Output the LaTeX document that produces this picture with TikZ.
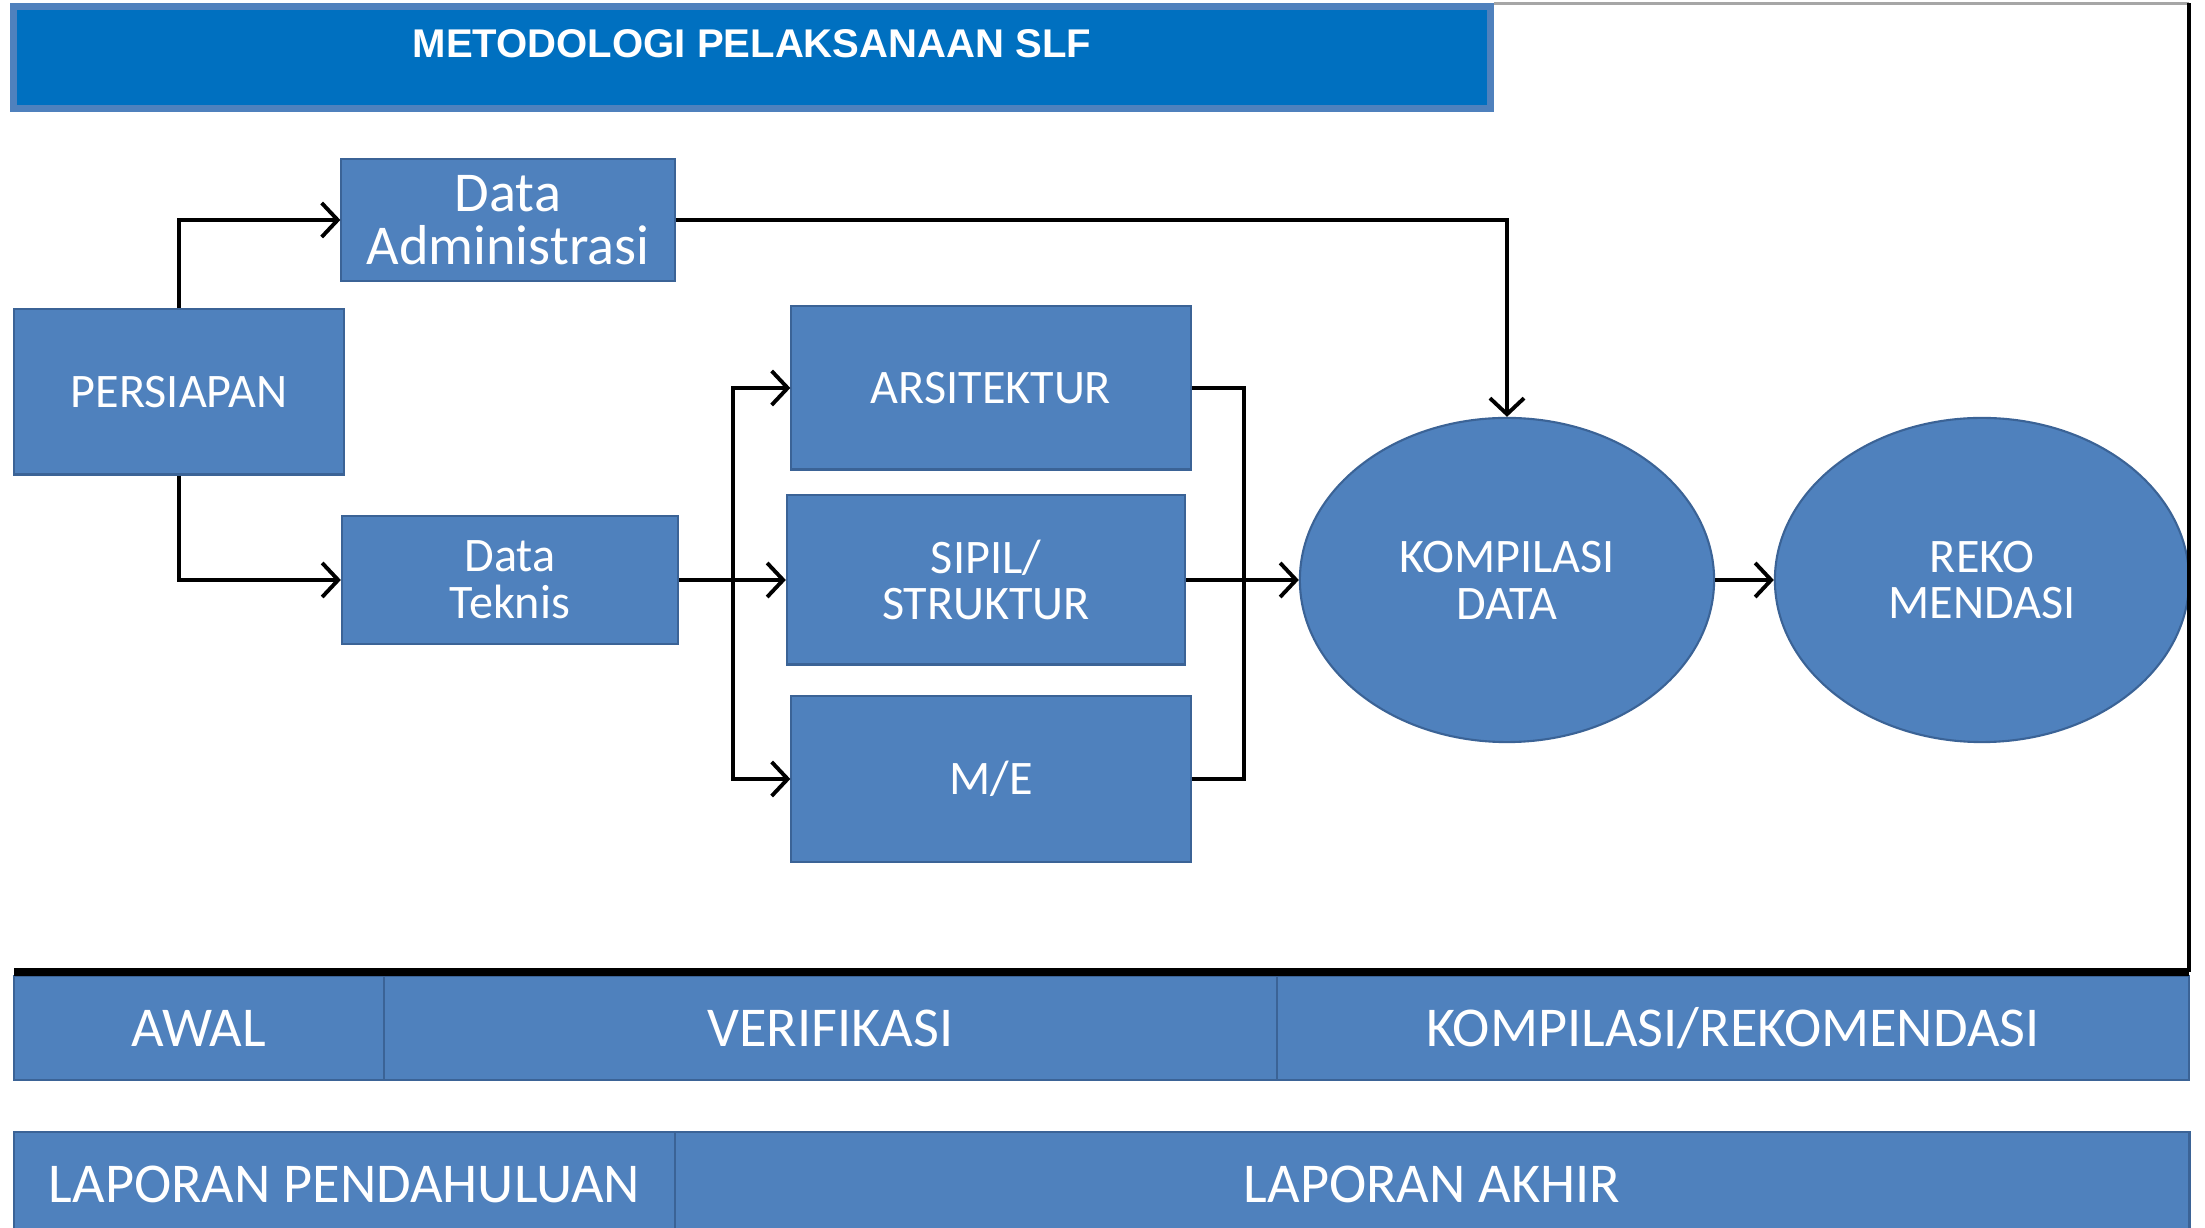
\documentclass[tikz,border=0pt]{standalone}
\usepackage{fontspec}
\setmainfont{Carlito}
\newfontfamily\titlefont{Liberation Sans}
\usetikzlibrary{shapes.geometric,arrows.meta}
\definecolor{boxblue}{HTML}{4F81BD}
\definecolor{boxedge}{HTML}{3B6396}
\definecolor{titleblue}{HTML}{0070C0}

\begin{document}
\begin{tikzpicture}[
        x=0.01cm, y=-0.01cm,
        block/.style={
            draw=boxedge,
            fill=boxblue,
            text=white,
            align=center,
            inner sep=0pt,
            line width=0.6pt,
            font=\fontsize{13.7}{13.3}\selectfont
        },
        oval/.style={block, ellipse, minimum width=4.14cm, minimum height=3.24cm},
        band/.style={block, minimum height=1.04cm, font=\fontsize{16}{19}\selectfont},
        titlebar/.style={
            draw=boxblue,
            line width=2pt,
            fill=titleblue,
            text=white,
            inner sep=0pt,
            minimum width=14.76cm,
            minimum height=1.01cm,
            text height=0.3cm,
            text depth=0.3cm,
            font=\titlefont\bfseries\fontsize{11.4}{14}\selectfont
        },
        signal/.style={-{Straight Barb[length=1.6mm,width=3.4mm]}, line width=1.1pt},
        branch/.style={line width=1.1pt}
    ]
        \useasboundingbox (0,0) rectangle (2205,1228);

        \node[titlebar] (title) at (752,57.5) {METODOLOGI PELAKSANAAN SLF};

        \node[block, minimum width=3.30cm, minimum height=1.65cm] (persiapan) at (179,392) {PERSIAPAN};
        \node[block, minimum width=3.33cm, minimum height=1.22cm, font=\fontsize{16}{15.2}\selectfont] (admin) at (508,220) {Data\\Administrasi};
        \node[block, minimum width=3.36cm, minimum height=1.28cm] (teknis) at (510,580) {Data\\Teknis};
        \node[block, minimum width=3.99cm, minimum height=1.63cm] (arsitektur) at (991,388) {ARSITEKTUR};
        \node[block, minimum width=3.98cm, minimum height=1.69cm] (sipil) at (986,580) {SIPIL/\\STRUKTUR};
        \node[block, minimum width=3.99cm, minimum height=1.66cm] (me) at (991,779) {M/E};
        \node[oval] (kompilasi) at (1507,580) {KOMPILASI\\DATA};
        \node[oval] (rekomendasi) at (1982,580) {REKO\\MENDASI};

        % phase and report rows
        \node[band, minimum width=3.70cm] (awal) at (199,1028) {AWAL};
        \node[band, minimum width=8.93cm] (verifikasi) at (830.5,1028) {VERIFIKASI};
        \node[band, minimum width=9.12cm] (kompreko) at (1733,1028) {KOMPILASI/REKOMENDASI};
        \node[band, minimum width=6.61cm] (pendahuluan) at (344.5,1184) {LAPORAN PENDAHULUAN};
        \node[band, minimum width=15.14cm] (akhir) at (1432,1184) {LAPORAN AKHIR};

        \coordinate (split) at (733,580);
        \coordinate (merge) at (1244,580);
        \coordinate (frameBR) at (2189,972);
        \coordinate (frameBL) at (14,972);
        \coordinate (frameTR) at (title.north east -| frameBR);

        \draw[black!35, line width=1pt] (title.north east) -- (frameTR);
        \draw[line width=1.2pt] (frameTR) -- (frameBR);
        \draw[line width=2pt] (frameBR) -- (frameBL);

        \draw[signal] (persiapan.north) |- (admin.west);
        \draw[signal] (persiapan.south) |- (teknis.west);
        \draw[signal] (admin.east) -| (kompilasi.north);
        \draw[signal] (teknis.east) -- (sipil.west);
        \draw[signal] (split) |- (arsitektur.west);
        \draw[signal] (split) |- (me.west);
        \draw[branch] (arsitektur.east) -| (merge);
        \draw[branch] (me.east) -| (merge);
        \draw[signal] (sipil.east) -- (kompilasi.west);
        \draw[signal] (kompilasi.east) -- (rekomendasi.west);
    \end{tikzpicture}
\end{document}
